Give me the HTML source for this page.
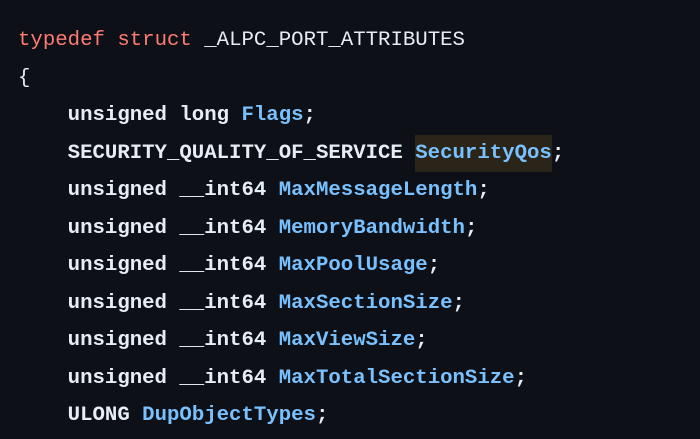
<!DOCTYPE html>
<html><head><meta charset="utf-8"><style>
html,body{margin:0;padding:0;background:#0d1117;width:700px;height:439px;overflow:hidden}
pre{margin:0;position:absolute;left:18px;top:22px;font-family:"Liberation Mono",monospace;font-size:20.7px;font-weight:bold;line-height:37.5px;color:#e6edf3;white-space:pre}
.k{color:#ff7b72;font-weight:normal}.v{color:#79c0ff}
.t{font-weight:normal}
.h{background:#2a2518;display:inline-block;line-height:37px}
</style></head><body>
<pre><span class="k">typedef</span> <span class="k">struct</span> <span class="t">_ALPC_PORT_ATTRIBUTES</span>
<span class="t">{</span>
    unsigned long <span class="v">Flags</span>;
    SECURITY_QUALITY_OF_SERVICE <span class="v h">SecurityQos</span>;
    unsigned __int64 <span class="v">MaxMessageLength</span>;
    unsigned __int64 <span class="v">MemoryBandwidth</span>;
    unsigned __int64 <span class="v">MaxPoolUsage</span>;
    unsigned __int64 <span class="v">MaxSectionSize</span>;
    unsigned __int64 <span class="v">MaxViewSize</span>;
    unsigned __int64 <span class="v">MaxTotalSectionSize</span>;
    ULONG <span class="v">DupObjectTypes</span>;
</pre>
</body></html>
